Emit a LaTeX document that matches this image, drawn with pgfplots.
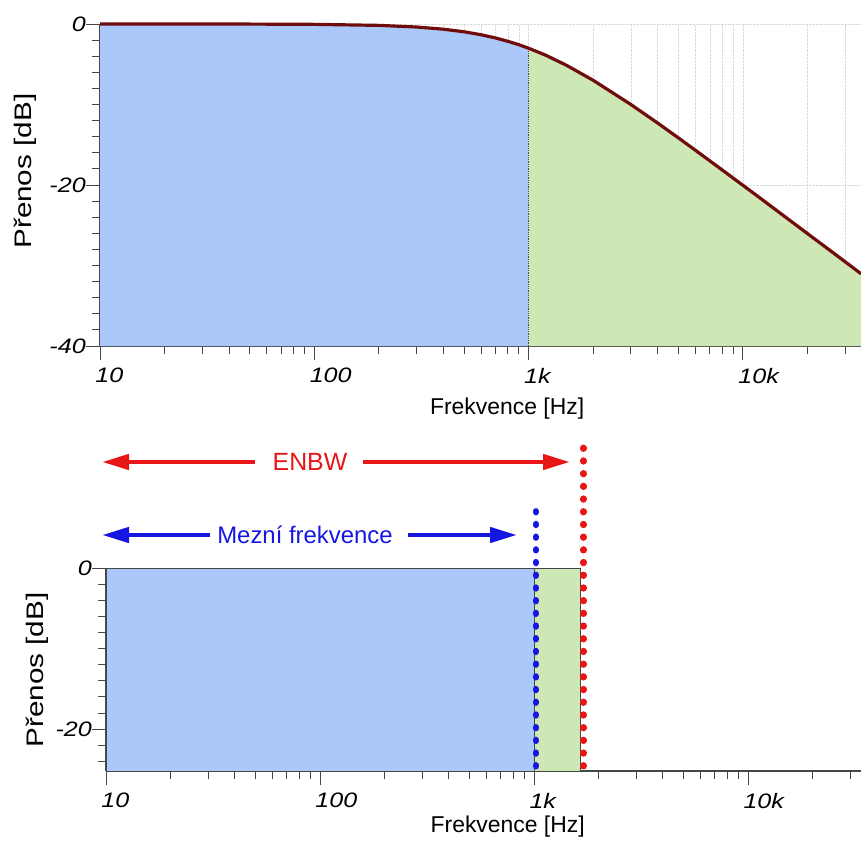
\documentclass[border=0pt]{standalone}
\usepackage{pgfplots}
\pgfplotsset{compat=1.18}
\usepackage{fontspec}
\setmainfont{Liberation Sans}
\usetikzlibrary{arrows.meta}
\definecolor{bfill}{RGB}{170,200,250}
\definecolor{gfill}{RGB}{205,232,180}
\definecolor{curve}{RGB}{112,12,12}
\definecolor{arred}{RGB}{232,22,22}
\definecolor{arblue}{RGB}{22,22,225}
\definecolor{axgray}{RGB}{70,70,70}
\pgfplotsset{
  mystyle/.style={
    scale only axis, axis lines=left, clip=false,
    axis line style={-, axgray, line width=1.3pt},
    tick align=outside, tick style={axgray, line width=1pt},
    major tick length=14bp, minor tick length=8bp,
    xtick={10,100,1000,10000}, xticklabels={10,100,1k,10k},
    minor xtick={20,30,40,50,60,70,80,90,200,300,400,500,600,700,800,900,2000,3000,4000,5000,6000,7000,8000,9000,20000,30000},
    xticklabel style={font=\fontsize{21}{25}\selectfont\itshape, xscale=1.2, anchor=north west, inner sep=0pt, xshift=-4bp, yshift=-8bp},
    yticklabel style={font=\fontsize{21}{25}\selectfont\itshape, xscale=1.2, anchor=east, inner sep=0pt},
    xlabel={Frekvence [Hz]}, ylabel={Přenos [dB]},
    xlabel style={font=\fontsize{23}{27}\selectfont, anchor=center},
    ylabel style={font=\fontsize{24}{28}\selectfont, anchor=center, xscale=1.24},
  }
}
\begin{document}
\begin{tikzpicture}
\path[use as bounding box] (0,0) rectangle (861bp,-841bp);
% ---------- top axis ----------
\begin{axis}[xmode=log, mystyle,
  at={(100bp,-346bp)}, anchor=south west,
  width=761bp, height=322bp,
  xmin=10, xmax=35560, ymin=-40, ymax=0,
  ytick={-40,-20,0}, yticklabels={-40,-20,0},
  minor ytick={-38,-36,...,-2},
  xmajorgrids, xminorgrids, ymajorgrids,
  major grid style={gray!30, densely dotted},
  minor grid style={gray!30, densely dotted},
  xlabel style={at={(axis description cs:0.535,-0.193)}},
  ylabel style={at={(axis description cs:-0.0986,0.543)}},
]
\addplot[fill=bfill, draw=none] coordinates {
 (10,-40) (10,0) (20,-0.002) (50,-0.011) (100,-0.043) (200,-0.17) (300,-0.374)
 (400,-0.645) (500,-0.969) (600,-1.335) (700,-1.73) (800,-2.15) (900,-2.57) (1000,-3.01) (1000,-40)};
\addplot[fill=gfill, draw=none] coordinates {
 (1000,-40) (1000,-3.01) (1200,-3.87) (1500,-5.12) (2000,-6.99) (3000,-10.0) (4000,-12.30)
 (5000,-14.15) (6000,-15.68) (7000,-16.99) (8000,-18.13) (10000,-20.04) (12000,-21.60)
 (15000,-23.54) (20000,-26.03) (25000,-27.96) (30000,-29.54) (35560,-31.02) (35560,-40)};
\addplot[densely dotted, black!70, line width=0.8pt] coordinates {(1000,-40) (1000,-3.01)};
\addplot[curve, line width=3.2pt] coordinates {
 (10,0) (20,-0.002) (50,-0.011) (100,-0.043) (200,-0.17) (300,-0.374)
 (400,-0.645) (500,-0.969) (600,-1.335) (700,-1.73) (800,-2.15) (900,-2.57) (1000,-3.01)
 (1200,-3.87) (1500,-5.12) (2000,-6.99) (3000,-10.0) (4000,-12.30)
 (5000,-14.15) (6000,-15.68) (7000,-16.99) (8000,-18.13) (10000,-20.04) (12000,-21.60)
 (15000,-23.54) (20000,-26.03) (25000,-27.96) (30000,-29.54) (35560,-31.02)};
\end{axis}
% ---------- bottom axis ----------
\begin{axis}[xmode=log, mystyle,
  at={(106bp,-771bp)}, anchor=south west,
  width=755bp, height=203bp,
  xmin=10, xmax=33700, ymin=-25.2, ymax=0,
  ytick={-20,0}, yticklabels={-20,0},
  minor ytick={-24,-22,...,-2},
  xlabel style={at={(axis description cs:0.532,-0.276)}},
  ylabel style={at={(axis description cs:-0.0914,0.497)}},
]
\addplot[fill=bfill, draw=axgray, line width=0.8pt] coordinates {(10,-25.2) (10,0) (1000,0) (1000,-25.2)};
\addplot[fill=gfill, draw=axgray, line width=0.8pt] coordinates {(1000,-25.2) (1000,0) (1650,0) (1650,-25.2)};
\addplot[arblue, line width=6.5bp, line cap=round, dash pattern=on 0.8bp off 11.9bp] coordinates {(1020,-24.6) (1020,8.2)};
\addplot[arred, line width=6.5bp, line cap=round, dash pattern=on 0.8bp off 11.9bp] coordinates {(1700,-24.6) (1700,15.9)};
\end{axis}
% ---------- annotations ----------
\draw[arred, line width=4.5bp, -{Triangle[length=27bp,width=15bp]}] (255bp,-462bp) -- (102bp,-462bp);
\draw[arred, line width=4.5bp, -{Triangle[length=27bp,width=15bp]}] (363bp,-462bp) -- (570bp,-462bp);
\node[text=arred, font=\fontsize{25}{29}\selectfont] at (310bp,-462bp) {ENBW};
\draw[arblue, line width=4.5bp, -{Triangle[length=27bp,width=15bp]}] (210bp,-535bp) -- (102bp,-535bp);
\draw[arblue, line width=4.5bp, -{Triangle[length=27bp,width=15bp]}] (408bp,-535bp) -- (517bp,-535bp);
\node[text=arblue, font=\fontsize{24}{28}\selectfont] at (305bp,-535bp) {Mezní frekvence};
\end{tikzpicture}
\end{document}
